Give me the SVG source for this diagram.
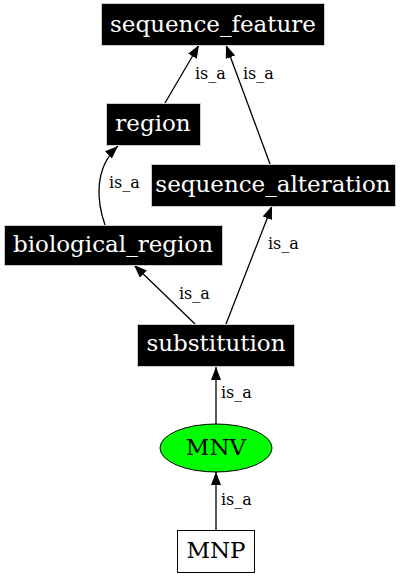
<svg xmlns="http://www.w3.org/2000/svg" width="409" height="576" viewBox="0 0 409 576">
<style>
.n rect.d{fill:#000;stroke:#ccc;stroke-width:1}
.n text{font-family:"DejaVu Serif",serif;font-size:23px;text-anchor:middle}
.n text.w{fill:#fff}
.e path{fill:none;stroke:#000;stroke-width:1.3}
.e text{font-family:"DejaVu Serif",serif;font-size:16px}
</style>
<defs>
<marker id="ah" markerUnits="userSpaceOnUse" markerWidth="13" markerHeight="10" refX="13" refY="5" orient="auto">
<path d="M0,0 L13,5 L0,10 z" fill="#000"/>
</marker>
</defs>
<rect width="409" height="576" fill="#fff"/>
<g class="e">
<path d="M165,103 L199,45" marker-end="url(#ah)"/>
<text x="195" y="79">is_a</text>
<path d="M270,164 L226,45" marker-end="url(#ah)"/>
<text x="243" y="79">is_a</text>
<path d="M105,225 C98,205 92,170 118,146" marker-end="url(#ah)"/>
<text x="109" y="188">is_a</text>
<path d="M226,324 L272,206" marker-end="url(#ah)"/>
<text x="268" y="249">is_a</text>
<path d="M195,324 L134,265" marker-end="url(#ah)"/>
<text x="179" y="299">is_a</text>
<path d="M216,424 L216,367" marker-end="url(#ah)"/>
<text x="221" y="398">is_a</text>
<path d="M216,530 L216,472" marker-end="url(#ah)"/>
<text x="221" y="505">is_a</text>
</g>
<g class="n" id="sequence_feature"><rect class="d" x="101.5" y="3.5" width="223" height="42"/><text class="w" x="213" y="32">sequence_feature</text></g>
<g class="n" id="region"><rect class="d" x="106.5" y="103.5" width="94" height="42"/><text class="w" x="153" y="131">region</text></g>
<g class="n" id="sequence_alteration"><rect class="d" x="151.5" y="164.5" width="244" height="42"/><text class="w" x="273" y="192">sequence_alteration</text></g>
<g class="n" id="biological_region"><rect class="d" x="4.5" y="225.5" width="218" height="40"/><text class="w" x="113" y="252">biological_region</text></g>
<g class="n" id="substitution"><rect class="d" x="137.5" y="324.5" width="157" height="42"/><text class="w" x="216" y="351">substitution</text></g>
<g class="n" id="MNV"><ellipse cx="216" cy="448" rx="56" ry="24" fill="#00ff00" stroke="#000" stroke-width="1"/><text x="216" y="455">MNV</text></g>
<g class="n" id="MNP"><rect x="177.5" y="530.5" width="77" height="42" fill="#fff" stroke="#000" stroke-width="1"/><text x="216" y="558">MNP</text></g>
</svg>
